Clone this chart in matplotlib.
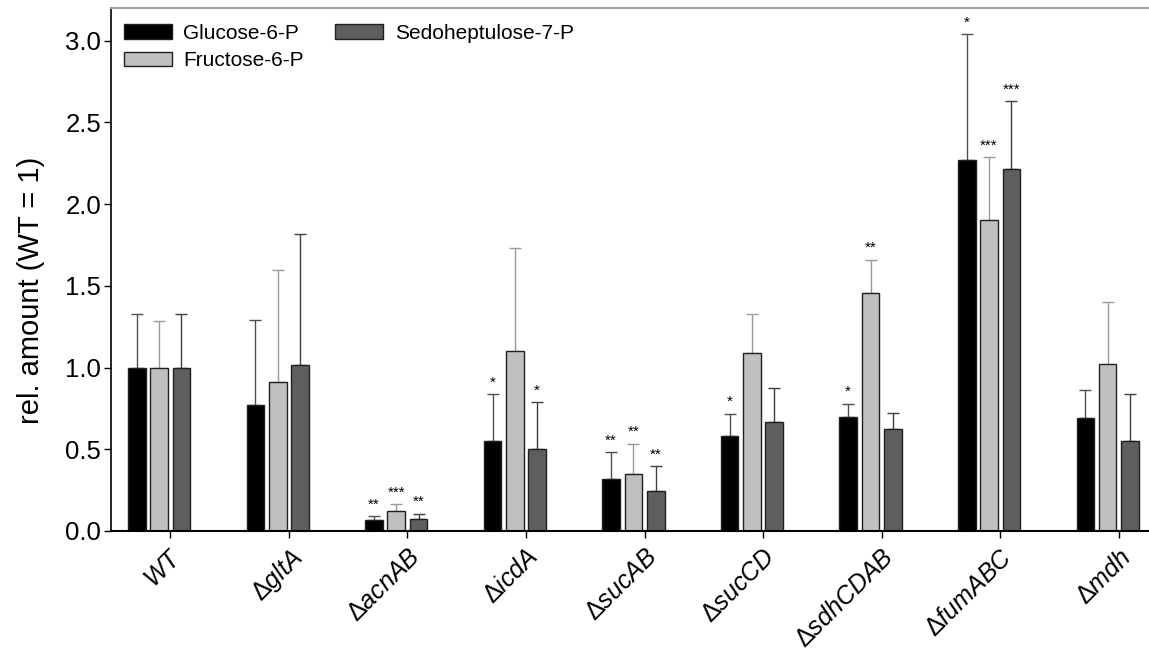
import matplotlib
matplotlib.use("Agg")
import matplotlib.pyplot as plt
import matplotlib.transforms as mtransforms
import numpy as np

plt.rcParams['font.family'] = ['Liberation Sans', 'DejaVu Sans']
plt.rcParams['mathtext.fontset'] = 'custom'
plt.rcParams['mathtext.rm'] = 'Liberation Sans'
plt.rcParams['mathtext.it'] = 'Liberation Sans:italic'
plt.rcParams['mathtext.bf'] = 'Liberation Sans:bold'

categories = ['WT', 'gltA', 'acnAB', 'icdA', 'sucAB', 'sucCD', 'sdhCDAB', 'fumABC', 'mdh']
series = ['Glucose-6-P', 'Fructose-6-P', 'Sedoheptulose-7-P']

glucose = [1.00, 0.77, 0.065, 0.55, 0.32, 0.58, 0.70, 2.27, 0.69]
fructose = [1.00, 0.91, 0.12, 1.10, 0.35, 1.09, 1.455, 1.905, 1.02]
sedo = [1.00, 1.015, 0.072, 0.50, 0.244, 0.665, 0.627, 2.215, 0.55]

# upper error bar tops
glucose_top = [1.33, 1.29, 0.09, 0.837, 0.481, 0.718, 0.778, 3.04, 0.86]
fructose_top = [1.283, 1.60, 0.163, 1.73, 0.533, 1.325, 1.66, 2.287, 1.40]
sedo_top = [1.326, 1.815, 0.106, 0.788, 0.397, 0.877, 0.724, 2.63, 0.836]

glucose_sig = ['', '', '**', '*', '**', '*', '*', '*', '']
fructose_sig = ['', '', '***', '', '**', '', '**', '***', '']
sedo_sig = ['', '', '**', '*', '**', '', '', '***', '']

values = [glucose, fructose, sedo]
tops = [glucose_top, fructose_top, sedo_top]
sigs = [glucose_sig, fructose_sig, sedo_sig]
colors = ['#000000', '#c0c0c0', '#5e5e5e']
err_colors = ['#505050', '#9a9a9a', '#404040']

W, H = 1149, 650
fig = plt.figure(figsize=(W / 100, H / 100), dpi=100)
ax = fig.add_axes([111 / W, 1 - 531 / H, (W - 111) / W, (531 - 8) / H])

x = np.arange(len(categories))
pitch = 0.188
bw = 0.149
for i in range(3):
    xs = x + (i - 1.5) * pitch
    vals = np.array(values[i])
    errs = np.array(tops[i]) - vals
    ax.bar(xs, vals, width=bw, color=colors[i], edgecolor='#202020', linewidth=1.0,
           label=series[i], zorder=2)
    ax.errorbar(xs, vals, yerr=[np.zeros_like(errs), errs], fmt='none',
                ecolor=err_colors[i], elinewidth=1.0, capsize=4.5, capthick=1.0, zorder=1)
    for xx, t, s in zip(xs, tops[i], sigs[i]):
        if s:
            ax.annotate(s, (xx, t), xytext=(0, 8.5), textcoords='offset points',
                        ha='center', va='center', fontsize=11)

ax.set_xlim(-0.5, 8.255)
ax.set_ylim(0, 3.2)
ax.set_yticks(np.arange(0, 3.01, 0.5))
ax.set_yticklabels([f'{v:.1f}' for v in np.arange(0, 3.01, 0.5)], fontsize=18.5)
ax.set_xticks(x)
labels = [r'$\mathit{WT}$'] + [r'$\Delta\mathit{' + c + '}$' for c in categories[1:]]
ax.set_xticklabels(labels, fontsize=18, rotation=45, ha='right', va='top',
                   rotation_mode='anchor')
offset = mtransforms.ScaledTranslation(9 / 100, 0, fig.dpi_scale_trans)
for lab in ax.get_xticklabels():
    lab.set_transform(lab.get_transform() + offset)
ax.tick_params(axis='y', direction='out', length=5, width=1, pad=2)
ax.tick_params(axis='x', direction='out', length=5, width=1, pad=5)
ax.set_ylabel('rel. amount (WT = 1)', fontsize=21, labelpad=15, y=0.46)

ax.spines['right'].set_visible(False)
ax.spines['top'].set_color('#a0a0a0')
ax.spines['top'].set_linewidth(1.5)
ax.spines['left'].set_linewidth(1.2)
ax.spines['bottom'].set_linewidth(1.5)

leg = ax.legend(loc='upper left', bbox_to_anchor=(13 / (W - 111), 1 - 16 / 523), ncol=2,
                frameon=False, fontsize=15, handlelength=2.3, handleheight=0.72,
                handletextpad=0.55, columnspacing=1.5, labelspacing=0.4,
                borderaxespad=0, borderpad=0)

fig.savefig('out.png', dpi=100)
